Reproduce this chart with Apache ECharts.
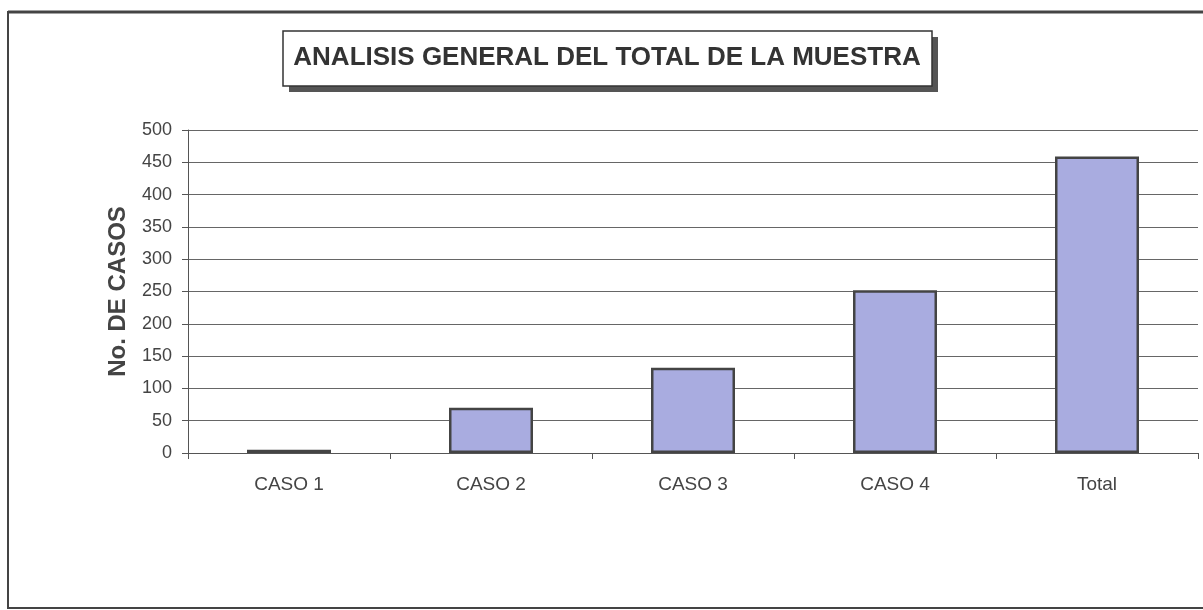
<!DOCTYPE html>
<html>
<head>
<meta charset="utf-8">
<script src="https://cdn.jsdelivr.net/npm/echarts@6/dist/echarts.min.js"></script>
<style>
  html, body { margin: 0; padding: 0; background: #fff; }
  #chart { width: 1203px; height: 610px; }
</style>
</head>
<body>
<div id="chart"></div>
<script>
// datos
const categorias = ['CASO 1', 'CASO 2', 'CASO 3', 'CASO 4', 'Total'];
const casos = [5, 70, 132, 252, 459];
const yTicks = { min: 0, max: 500, interval: 50 };

const chart = echarts.init(document.getElementById('chart'));

const FONT = 'Liberation Sans, Arial, sans-serif';

const option = {
  backgroundColor: '#fff',
  animation: false,
  title: {
    text: 'ANALISIS GENERAL DEL TOTAL DE LA MUESTRA',
    left: 607,
    top: 45,
    padding: 0,
    textAlign: 'center',
    textStyle: {
      fontFamily: FONT,
      fontWeight: 'bold',
      fontSize: 26,
      color: '#333'
    }
  },
  // marco exterior y caja del titulo (con sombra)
  graphic: [
    { type: 'rect', z: -1, shape: { x: 8, y: 12, width: 1210, height: 596 },
      style: { fill: 'none', stroke: '#444', lineWidth: 2 } },
    { type: 'line', z: -1, shape: { x1: 8, y1: 12, x2: 1203, y2: 12 },
      style: { stroke: '#444', lineWidth: 3 } },
    { type: 'rect', z: -1, shape: { x: 289, y: 37, width: 649, height: 55 },
      style: { fill: '#555' } },
    { type: 'rect', z: -1, shape: { x: 283, y: 31, width: 649, height: 55 },
      style: { fill: '#fff', stroke: '#333', lineWidth: 1.5 } }
  ],
  grid: {
    left: 188,
    right: 5,
    top: 130,
    bottom: 157
  },
  xAxis: {
    type: 'category',
    data: categorias,
    axisLine: { lineStyle: { color: '#555', width: 1 } },
    axisTick: { show: true, length: 6, lineStyle: { color: '#555' } },
    axisLabel: {
      margin: 22,
      fontFamily: FONT,
      fontSize: 19,
      color: '#444'
    }
  },
  yAxis: {
    type: 'value',
    min: yTicks.min,
    max: yTicks.max,
    interval: yTicks.interval,
    name: 'No. DE CASOS',
    nameLocation: 'middle',
    nameRotate: 90,
    nameGap: 58,
    nameTextStyle: {
      fontFamily: FONT,
      fontWeight: 'bold',
      fontSize: 24,
      color: '#444'
    },
    axisLine: { show: true, lineStyle: { color: '#555', width: 1 } },
    axisTick: { show: true, length: 6, lineStyle: { color: '#555' } },
    axisLabel: {
      margin: 16,
      fontFamily: FONT,
      fontSize: 18,
      color: '#444'
    },
    splitLine: { lineStyle: { color: '#666', width: 1 } }
  },
  series: [
    {
      type: 'bar',
      data: casos,
      barWidth: 84,
      itemStyle: {
        color: '#a9ace0',
        borderColor: '#444',
        borderWidth: 2.5
      }
    }
  ]
};

chart.setOption(option);
</script>
</body>
</html>
